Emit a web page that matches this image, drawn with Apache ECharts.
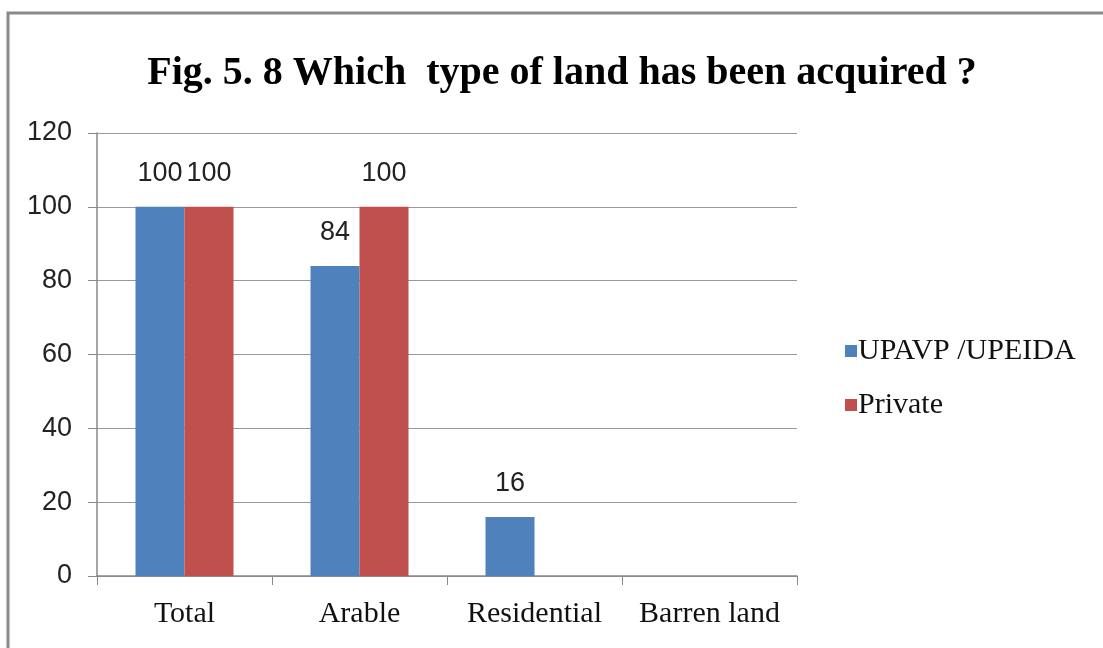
<!DOCTYPE html>
<html>
<head>
<meta charset="utf-8">
<script src="https://cdn.jsdelivr.net/npm/echarts@6/dist/echarts.min.js"></script>
<style>
  html, body { margin: 0; padding: 0; background: #fff; }
  #chart { width: 1103px; height: 648px; }
</style>
</head>
<body>
<div id="chart"></div>
<script>
const categories = ['Total', 'Arable', 'Residential', 'Barren land'];
const upavpValues = [100, 84, 16, 0];
const privateValues = [100, 100, 0, 0];
const yTicks = { min: 0, max: 120, interval: 20 };

const chart = echarts.init(document.getElementById('chart'));

// zero bars get no label, like the source
const labelStyle = {
  show: true,
  position: 'top',
  distance: 20,
  fontFamily: 'Liberation Sans',
  fontSize: 27,
  color: '#222',
  formatter: p => (p.value === 0 ? '' : p.value)
};

const option = {
  animation: false,
  title: {
    text: 'Fig. 5. 8 Which  type of land has been acquired ?',
    left: 557,
    textAlign: 'center',
    top: 49,
    textStyle: { fontFamily: 'Liberation Serif', fontWeight: 'bold', fontSize: 40, color: '#000' }
  },
  graphic: [{
    type: 'rect',
    shape: { x: 8, y: 13, width: 1300, height: 800 },
    style: { fill: 'none', stroke: '#8a8a8a', lineWidth: 3 },
    silent: true
  }],
  legend: {
    orient: 'vertical',
    left: 840,
    top: 331,
    itemWidth: 12,
    itemHeight: 12,
    itemGap: 24,
    icon: 'rect',
    textStyle: { fontFamily: 'Liberation Serif', fontSize: 30, color: '#111', padding: [0, 0, 0, -4] },
    data: ['UPAVP /UPEIDA', 'Private']
  },
  grid: { left: 97, right: 306, top: 133, bottom: 72, containLabel: false },
  xAxis: {
    type: 'category',
    data: categories,
    axisLine: { lineStyle: { color: '#888', width: 1.5 } },
    axisTick: { show: true, interval: 0, length: 9, lineStyle: { color: '#888' } },
    axisLabel: { interval: 0, fontFamily: 'Liberation Serif', fontSize: 30, color: '#111', margin: 23 }
  },
  yAxis: {
    type: 'value',
    min: yTicks.min,
    max: yTicks.max,
    interval: yTicks.interval,
    axisLine: { show: true, lineStyle: { color: '#888', width: 1.5 } },
    axisTick: { show: true, length: 9, lineStyle: { color: '#888' } },
    splitLine: { lineStyle: { color: '#999', width: 1.2 } },
    axisLabel: { fontFamily: 'Liberation Sans', fontSize: 27, color: '#222', margin: 25 }
  },
  series: [
    {
      name: 'UPAVP /UPEIDA',
      type: 'bar',
      data: upavpValues,
      barGap: '0%',
      barCategoryGap: '44%',
      itemStyle: { color: '#4F81BD' },
      label: labelStyle
    },
    {
      name: 'Private',
      type: 'bar',
      data: privateValues,
      itemStyle: { color: '#C0504D' },
      label: labelStyle
    }
  ]
};

chart.setOption(option);
</script>
</body>
</html>
